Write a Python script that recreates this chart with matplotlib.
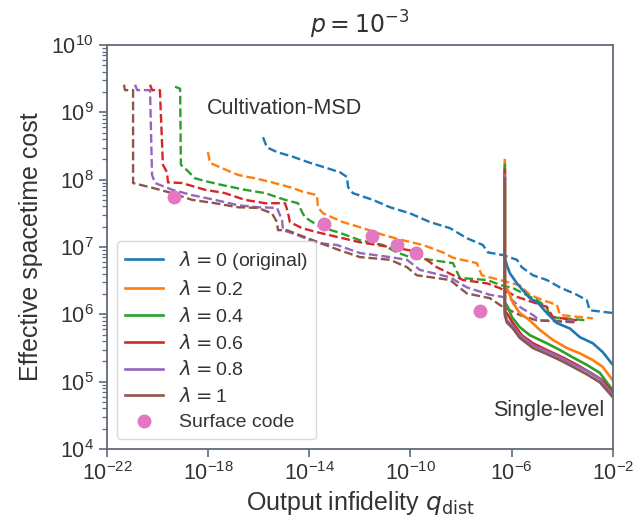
import numpy as np
import matplotlib
matplotlib.use("Agg")
import matplotlib.pyplot as plt
from matplotlib.ticker import LogLocator, NullLocator

# lambda values and colours
lams = ["0 (original)", "0.2", "0.4", "0.6", "0.8", "1"]
colors = ["#1f77b4", "#ff7f0e", "#2ca02c", "#d62728", "#9467bd", "#8c564b"]

# Cultivation-MSD curves (log10 q_dist, log10 cost)
msd_x0 = [-15.83, -15.68, -15.28, -14.65, -13.98, -13.46, -12.79, -12.51, -12.47, -12.28, -11.49, -10.81, -10.02,
          -9.23, -8.44, -7.77, -7.14, -6.94, -6.35, -5.79, -5.60, -5.16, -4.61, -4.09, -3.42, -3.03, -2.91, -2.0]
msd_y0 = [8.63, 8.48, 8.41, 8.34, 8.25, 8.19, 8.11, 8.04, 7.89, 7.80, 7.70, 7.59, 7.50,
          7.37, 7.28, 7.13, 7.03, 6.92, 6.88, 6.81, 6.70, 6.58, 6.51, 6.40, 6.29, 6.21, 6.06, 6.02]
msd_x2 = [-18.01, -17.93, -17.45, -16.82, -16.15, -15.48, -14.69, -14.25, -13.70, -13.66, -13.46, -12.67, -11.88,
          -11.09, -10.30, -9.51, -8.72, -8.32, -7.38, -7.18, -6.47, -5.68, -5.28, -4.77, -4.21, -4.09, -2.79]
msd_y2 = [8.41, 8.25, 8.17, 8.07, 8.02, 7.96, 7.88, 7.82, 7.77, 7.59, 7.50, 7.37, 7.28,
          7.18, 7.10, 7.03, 6.92, 6.84, 6.76, 6.58, 6.51, 6.43, 6.29, 6.21, 6.14, 5.99, 5.94]
msd_x4 = [-19.31, -19.11, -19.08, -18.92, -18.52, -18.13, -17.45, -16.55, -15.75, -14.96, -14.45, -14.29, -14.17,
          -13.58, -12.79, -12.0, -11.09, -10.54, -10.02, -9.23, -8.32, -8.05, -6.98, -6.39, -5.95, -5.0, -4.61,
          -4.49, -3.03]
msd_y4 = [9.38, 9.35, 8.22, 8.17, 8.02, 7.98, 7.92, 7.85, 7.80, 7.70, 7.65, 7.52, 7.44,
          7.30, 7.21, 7.10, 7.03, 6.92, 6.85, 6.81, 6.76, 6.54, 6.51, 6.43, 6.39, 6.21, 6.11,
          5.96, 5.91]
msd_x6 = [-20.30, -20.22, -19.91, -19.79, -19.63, -19.59, -19.04, -18.13, -17.34, -16.55, -15.75, -14.96, -14.85,
          -14.77, -14.29, -13.70, -12.91, -12.0, -10.81, -10.02, -9.51, -8.96, -7.93, -6.98, -6.47, -5.79, -5.40,
          -4.61, -4.37, -3.42]
msd_y6 = [9.41, 9.33, 9.33, 8.22, 8.11, 7.96, 7.95, 7.85, 7.80, 7.70, 7.65, 7.65, 7.52,
          7.37, 7.28, 7.22, 7.15, 7.07, 7.0, 6.95, 6.85, 6.70, 6.51, 6.46, 6.39, 6.26, 6.21,
          6.11, 5.96, 5.91]
msd_x8 = [-20.89, -20.81, -20.30, -20.22, -20.10, -19.43, -18.64, -17.73, -16.82, -16.03, -15.28, -15.08, -15.04,
          -14.49, -13.70, -12.91, -12.0, -10.81, -10.14, -9.63, -8.44, -7.77, -6.86, -6.07, -5.68, -5.16, -4.89,
          -3.50]
msd_y8 = [9.41, 9.33, 9.33, 8.07, 7.95, 7.85, 7.77, 7.70, 7.62, 7.59, 7.58, 7.40, 7.25,
          7.18, 7.06, 7.03, 6.91, 6.85, 6.81, 6.66, 6.55, 6.40, 6.29, 6.24, 6.11, 5.99, 5.91,
          5.90]
msd_x10 = [-21.33, -21.29, -20.97, -20.97, -20.22, -19.43, -18.64, -17.73, -16.82, -16.03, -15.48, -15.28, -15.24,
           -14.89, -13.58, -12.79, -12.0, -10.81, -10.14, -9.75, -8.44, -7.77, -6.86, -6.35, -5.68, -5.0, -3.42]
msd_y10 = [9.41, 9.33, 9.33, 7.95, 7.88, 7.80, 7.70, 7.65, 7.59, 7.58, 7.50, 7.37, 7.25,
           7.25, 7.06, 6.95, 6.85, 6.81, 6.70, 6.58, 6.51, 6.31, 6.24, 6.11, 5.99, 5.91, 5.88]

# Single-level curves
sl_x0 = [-6.27, -6.19, -6.07, -5.79, -5.56, -5.28, -4.96, -4.61, -4.21, -3.70, -3.30, -2.79, -2.40, -2.0]
sl_y0 = [6.84, 6.73, 6.61, 6.46, 6.36, 6.24, 6.17, 6.02, 5.87, 5.79, 5.66, 5.57, 5.44, 5.25]
sl_x2 = [-6.27, -6.27, -6.15, -5.95, -5.68, -5.28, -4.89, -4.37, -3.82, -3.30, -2.79, -2.40, -2.0]
sl_y2 = [8.29, 6.43, 6.36, 6.17, 6.02, 5.91, 5.77, 5.62, 5.50, 5.42, 5.32, 5.22, 5.02]
sl_x4 = [-6.27, -6.27, -6.15, -5.99, -5.68, -5.28, -4.61, -4.09, -3.58, -3.03, -2.51, -2.0]
sl_y4 = [8.22, 6.18, 6.11, 5.96, 5.81, 5.69, 5.57, 5.47, 5.36, 5.25, 5.13, 4.87]
sl_x6 = [-6.27, -6.27, -6.15, -5.95, -5.60, -5.16, -4.61, -3.98, -3.42, -2.91, -2.40, -2.0]
sl_y6 = [8.14, 6.06, 5.99, 5.87, 5.69, 5.57, 5.47, 5.36, 5.25, 5.14, 5.02, 4.83]
sl_x8 = [-6.27, -6.27, -6.19, -5.95, -5.68, -5.16, -4.61, -4.09, -3.58, -3.03, -2.51, -2.0]
sl_y8 = [8.07, 6.02, 5.91, 5.82, 5.69, 5.54, 5.45, 5.36, 5.26, 5.16, 5.04, 4.80]
sl_x10 = [-6.27, -6.27, -6.19, -5.95, -5.68, -5.16, -4.61, -4.09, -3.58, -3.03, -2.51, -2.0]
sl_y10 = [8.02, 5.99, 5.88, 5.79, 5.65, 5.50, 5.41, 5.32, 5.22, 5.11, 4.99, 4.77]

# surface code points
sc_x = [-19.35, -13.42, -11.53, -10.54, -9.79, -7.26]
sc_y = [7.74, 7.34, 7.16, 7.03, 6.91, 6.05]

msd = [(msd_x0, msd_y0), (msd_x2, msd_y2), (msd_x4, msd_y4),
       (msd_x6, msd_y6), (msd_x8, msd_y8), (msd_x10, msd_y10)]
sl = [(sl_x0, sl_y0), (sl_x2, sl_y2), (sl_x4, sl_y4),
      (sl_x6, sl_y6), (sl_x8, sl_y8), (sl_x10, sl_y10)]

plt.rcParams['font.family'] = ['Liberation Sans', 'DejaVu Sans']
plt.rcParams['text.color'] = '#333333'
plt.rcParams['axes.labelcolor'] = '#333333'
plt.rcParams['xtick.color'] = '#5f6b78'
plt.rcParams['ytick.color'] = '#5f6b78'
plt.rcParams['xtick.labelcolor'] = '#333333'
plt.rcParams['ytick.labelcolor'] = '#333333'

fig = plt.figure(figsize=(6.39, 5.23), dpi=100)
ax = fig.add_axes([0.1675, 0.1415, 0.7915, 0.7725])

for i in range(6):
    x, y = msd[i]
    ax.plot(10 ** np.array(x), 10 ** np.array(y), '--', color=colors[i], lw=1.7)
for i in range(6):
    x, y = sl[i]
    ax.plot(10 ** np.array(x), 10 ** np.array(y), '-', color=colors[i], lw=1.9,
            label=r'$\lambda = $' + lams[i])
ax.plot(10 ** np.array(sc_x), 10 ** np.array(sc_y), 'o', color='#e377c2', ms=9,
        ls='none', label='Surface code', zorder=5)

ax.set_xscale('log')
ax.set_yscale('log')
ax.set_xlim(1e-22, 1e-2)
ax.set_ylim(1e4, 1e10)
ax.set_xticks([10.0 ** k for k in range(-22, -1, 4)])
ax.xaxis.set_minor_locator(NullLocator())
ax.yaxis.set_minor_locator(LogLocator(base=10, subs=np.arange(2, 10), numticks=30))
ax.xaxis.get_offset_text().set_visible(False)
ax.yaxis.get_offset_text().set_visible(False)

for s in ax.spines.values():
    s.set_color('#5f6b78')
    s.set_linewidth(1.3)
ax.tick_params(which='major', length=6, width=1.2, labelsize=15.5)
ax.tick_params(which='minor', length=3.5, width=0.9)

ax.set_title(r'$p = 10^{-3}$', fontsize=17, pad=8)
ax.set_xlabel(r'Output infidelity $q_{\rm dist}$', fontsize=18, labelpad=3)
ax.set_ylabel('Effective spacetime cost', fontsize=18, labelpad=6)

ax.text(1e-15, 10 ** 9.06, 'Cultivation-MSD', fontsize=15.5, ha='center', va='center')
ax.text(10 ** -4.55, 10 ** 4.57, 'Single-level', fontsize=15.5, ha='center', va='center')

leg = ax.legend(loc='lower left', fontsize=14, numpoints=1, frameon=True,
                fancybox=True, edgecolor='#d0d0d0', handlelength=2.0,
                labelspacing=0.4, borderaxespad=0.5)

fig.savefig('out.png', dpi=100)
